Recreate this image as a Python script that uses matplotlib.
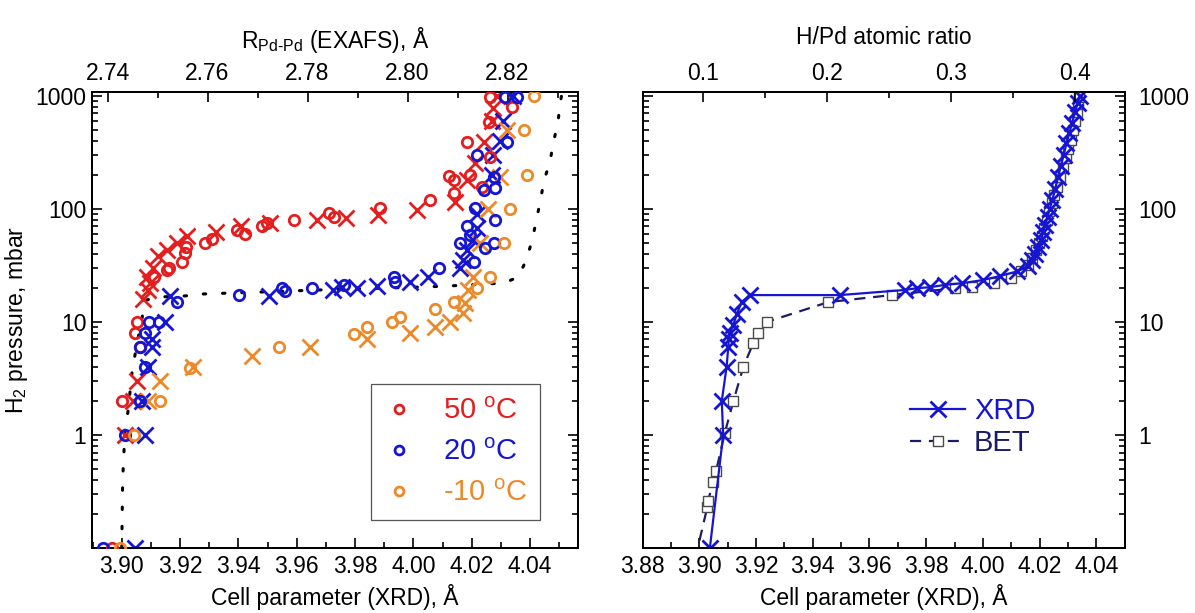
import numpy as np
import matplotlib.pyplot as plt
from matplotlib.ticker import (MultipleLocator, FixedLocator, FixedFormatter,
                               NullFormatter, LogLocator, FormatStrFormatter)

plt.rcParams['font.family'] = ['Liberation Sans', 'DejaVu Sans']
plt.rcParams['mathtext.fontset'] = 'custom'
plt.rcParams['mathtext.rm'] = 'Liberation Sans'
plt.rcParams['mathtext.it'] = 'Liberation Sans:italic'
plt.rcParams['font.size'] = 16.5
plt.rcParams['axes.linewidth'] = 1.4

red = '#e41e1e'
blue = '#1515d2'
orange = '#ec8a2a'
navy = '#1c1c66'

# ---- left panel: XRD cell parameter (A) vs pressure (mbar), crosses
a50 = [3.9011, 3.9040, 3.9051, 3.9074, 3.9091, 3.9097, 3.9086, 3.9108, 3.9125, 3.9154,
       3.9189, 3.9223, 3.9323, 3.9408, 3.9508, 3.9668, 3.9769, 3.9880, 4.0011, 4.0143,
       4.0183, 4.0211, 4.0240, 4.0268, 4.0274, 4.0286]
p50a = [1, 2, 3, 16, 19, 22, 25, 30, 38, 43,
        50, 58, 63, 70, 75, 80, 83, 88, 98, 116,
        181, 255, 394, 600, 780, 990]
a20 = [3.9046, 3.9080, 3.9069, 3.9091, 3.9103, 3.9103, 3.9148, 3.9166, 3.9503, 3.9725,
       3.9754, 3.9806, 3.9874, 3.9988, 4.0051, 4.0160, 4.0171, 4.0183, 4.0204, 4.0217,
       4.0217, 4.0268, 4.0274, 4.0297, 4.0308, 4.0341]
p20a = [0.1, 1, 2, 4, 6, 7, 10, 17, 17, 19,
        20.5, 20, 21, 22.7, 25, 30, 35, 43, 53, 68,
        90, 200, 300, 400, 600, 1000]
am10 = [3.9091, 3.9131, 3.9245, 3.9446, 3.9646, 3.9840, 3.9988, 4.0074, 4.0126, 4.0171,
        4.0177, 4.0188, 4.0205, 4.0228, 4.0257, 4.0297, 4.0320]
pm10a = [2, 3, 4, 5, 6, 7, 8, 9, 10, 12,
         14.6, 19, 25, 50, 100, 193, 500]

# ---- left panel: EXAFS R(Pd-Pd) (A) vs pressure, circles
r50 = [2.7409, 2.7428, 2.7465, 2.7455, 2.7458, 2.7492, 2.7518, 2.7522, 2.7548, 2.7555,
       2.7557, 2.7595, 2.7608, 2.7658, 2.7675, 2.7708, 2.7718, 2.7773, 2.7842, 2.7852,
       2.7945, 2.8045, 2.8092, 2.8082, 2.8092, 2.8125, 2.8148, 2.8165, 2.8118, 2.8162,
       2.8165, 2.8208]
p50r = [0.1, 2, 6, 8, 10, 25, 29, 30, 34, 41,
        46, 50, 54, 65, 60, 70, 75, 80, 92, 85,
        101, 120, 138, 196, 181, 200, 158, 290, 394, 593,
        986, 804]
r20 = [2.7391, 2.7435, 2.7465, 2.7475, 2.7465, 2.7475, 2.7482, 2.7502, 2.7538, 2.7662,
       2.7748, 2.7755, 2.7808, 2.7872, 2.7972, 2.7975, 2.8062, 2.8132, 2.8105, 2.8155,
       2.8172, 2.8125, 2.8118, 2.8175, 2.8135, 2.8152, 2.8175, 2.8172, 2.8138, 2.8198,
       2.8195, 2.8218]
p20r = [0.1, 1, 2, 4, 6, 8, 10, 10, 15, 17.3,
        19.9, 18.9, 19.9, 21.3, 25.2, 22.7, 30, 34, 50, 45,
        50, 59, 70, 80, 101, 147, 152, 193, 301, 394,
        986, 986]
rm10 = [2.7425, 2.7452, 2.7505, 2.7565, 2.7742, 2.7892, 2.7918, 2.7968, 2.7985, 2.8055,
        2.8092, 2.8138, 2.8165, 2.8192, 2.8205, 2.8238, 2.8232, 2.8252]
pm10r = [0.1, 1, 2, 3.9, 6, 7.9, 9.1, 10, 11, 13,
         15, 20, 25, 50, 100, 200, 500, 1000]

# ---- left panel: model isotherm (dotted)
iso_a = [3.9000, 3.9003, 3.9011, 3.9022, 3.9036, 3.9055, 3.9070, 3.9080, 3.9120, 3.9217,
         3.9280, 3.9500, 3.9700, 3.9920, 4.0100, 4.0178, 4.0260, 4.0308, 4.0359, 4.0386,
         4.0407, 4.0434, 4.0448, 4.0468, 4.0479, 4.0495, 4.0502, 4.0509, 4.0512]
iso_p = [0.1, 0.4, 1.1, 1.66, 3.76, 7, 11, 15.5, 16.6, 17,
         17.7, 18.5, 19.3, 20, 20.7, 21.2, 21.8, 22, 25, 35,
         53, 115, 181, 261, 383, 577, 832, 1063, 1150]

# ---- right panel: XRD (20 C) and BET isotherms
xrd_a = [3.9037, 3.9084, 3.9079, 3.9096, 3.9102, 3.9104, 3.9108, 3.9120, 3.9132, 3.9149,
         3.9178, 3.9496, 3.9725, 3.9766, 3.9813, 3.9866, 3.9925, 4.0000, 4.0060, 4.0120,
         4.0160, 4.0175, 4.0185, 4.0195, 4.0205, 4.0213, 4.0220, 4.0228, 4.0236, 4.0245,
         4.0255, 4.0265, 4.0275, 4.0285, 4.0295, 4.0305, 4.0315, 4.0325, 4.0335, 4.0342]
xrd_p = [0.1, 1, 2, 4, 6, 7, 8, 9.5, 11.7, 15,
         17.3, 17.3, 19.2, 19.9, 20.3, 21.3, 22, 23.5, 25.5, 28,
         31, 35, 40, 46, 53, 62, 72, 85, 100, 120,
         150, 190, 240, 300, 380, 470, 580, 720, 870, 1000]
bet_a = [3.8985, 3.9028, 3.9031, 3.9047, 3.9059, 3.9090, 3.9120, 3.9155, 3.9190, 3.9208,
         3.9237, 3.9455, 3.9678, 3.9902, 3.9960, 4.0040, 4.0100, 4.0135, 4.0160, 4.0175,
         4.0188, 4.0198, 4.0207, 4.0216, 4.0225, 4.0234, 4.0243, 4.0252, 4.0262, 4.0272,
         4.0282, 4.0292, 4.0302, 4.0310, 4.0318, 4.0325, 4.0331, 4.0336, 4.0340]
bet_p = [0.08, 0.23, 0.26, 0.38, 0.48, 1.05, 2, 4, 6.5, 8,
         10, 15, 17.3, 19.9, 20.5, 22, 24.5, 28, 32, 37,
         43, 50, 58, 68, 80, 95, 112, 132, 158, 190,
         230, 280, 340, 410, 500, 600, 720, 850, 980]

fig = plt.figure(figsize=(11.95, 6.13), dpi=100)
ax = fig.add_axes([0.077, 0.106, 0.4067, 0.744])
ax2 = fig.add_axes([0.5378, 0.106, 0.4033, 0.744])


def style_y(a, right_labels):
    a.set_yscale('log')
    a.set_ylim(0.1, 1085)
    a.yaxis.set_major_locator(FixedLocator([0.1, 1, 10, 100, 1000]))
    a.yaxis.set_major_formatter(FixedFormatter(['', '1', '10', '100', '1000']))
    a.yaxis.set_minor_locator(LogLocator(base=10, subs=np.arange(2, 10)))
    a.yaxis.set_minor_formatter(NullFormatter())
    a.tick_params(axis='y', which='both', direction='in', left=True, right=True,
                  labelleft=not right_labels, labelright=right_labels, width=1.2)
    a.tick_params(axis='y', which='major', length=7, pad=4 if not right_labels else 10)
    a.tick_params(axis='y', which='minor', length=4)


def style_x(a, major, minor, fmt, top):
    a.xaxis.set_major_locator(MultipleLocator(major))
    a.xaxis.set_minor_locator(MultipleLocator(minor))
    a.xaxis.set_major_formatter(FormatStrFormatter(fmt))
    a.tick_params(axis='x', which='both', direction='in', width=1.2,
                  top=top, bottom=not top, labeltop=top, labelbottom=not top)
    a.tick_params(axis='x', which='major', length=7, pad=5)
    a.tick_params(axis='x', which='minor', length=4)


# ---------- left panel
style_y(ax, False)
ax.set_xlim(3.8898, 4.0564)
style_x(ax, 0.02, 0.01, '%.2f', False)
ax.plot(iso_a, iso_p, color='k', lw=2.2, ls=(0, (0.8, 5.5)), dash_capstyle='round', zorder=1)
for xa, pa, c in [(a50, p50a, red), (a20, p20a, blue), (am10, pm10a, orange)]:
    ax.plot(xa, pa, 'x', color=c, ms=11, mew=2.0, zorder=3)
ax.set_xlabel('Cell parameter (XRD), Å')
ax.set_ylabel('H$_2$ pressure, mbar', labelpad=4)

axt = ax.twiny()
axt.set_xlim(2.7369, 2.8341)
style_x(axt, 0.02, 0.01, '%.2f', True)
h = []
for xr, pr, c, lab in [(r50, p50r, red, '50 $^{\\mathrm{o}}$C'),
                       (r20, p20r, blue, '20 $^{\\mathrm{o}}$C'),
                       (rm10, pm10r, orange, '-10 $^{\\mathrm{o}}$C')]:
    ln, = axt.plot(xr, pr, 'o', color=c, mfc='none', ms=7.5, mew=2.0, label=lab, zorder=3)
    h.append(ln)
axt.set_xlabel('R$_{\\mathrm{Pd\u2010Pd}}$ (EXAFS), Å', labelpad=10)
leg = axt.legend(handles=h, loc='lower right', bbox_to_anchor=(0.922, 0.061),
                 fontsize=21, frameon=True, fancybox=False, edgecolor='#555555',
                 framealpha=1, handlelength=1.0, handletextpad=1.0, borderpad=0.45,
                 labelspacing=0.45, markerscale=0.85, borderaxespad=0)
leg.get_frame().set_linewidth(0.9)
for t, c in zip(leg.get_texts(), [red, blue, orange]):
    t.set_color(c)

# ---------- right panel
style_y(ax2, True)
ax2.set_xlim(3.88, 4.05)
style_x(ax2, 0.02, 0.01, '%.2f', False)
ax2.plot(bet_a, bet_p, color=navy, lw=1.6, ls=(0, (5, 3.5)), marker='s', ms=7,
         mfc='white', mec='#4a4a4a', mew=1.0, label='BET', zorder=2)
ax2.plot(xrd_a, xrd_p, color=blue, lw=1.6, marker='x', ms=11, mew=2.0,
         label='XRD', zorder=3)
ax2.set_xlabel('Cell parameter (XRD), Å')
hs, ls_ = ax2.get_legend_handles_labels()
leg2 = ax2.legend(hs[::-1], ls_[::-1], loc='center left', bbox_to_anchor=(0.50, 0.265),
                  frameon=False, fontsize=21, handlelength=1.9, handletextpad=0.3,
                  labelspacing=0.15)
for t, c in zip(leg2.get_texts(), [blue, navy]):
    t.set_color(c)

ax2t = ax2.twiny()
ax2t.set_xlim(0.0514, 0.44)
style_x(ax2t, 0.1, 0.05, '%.1f', True)
ax2t.set_xlabel('H/Pd atomic ratio', labelpad=13)

fig.savefig('out.png', dpi=100)
